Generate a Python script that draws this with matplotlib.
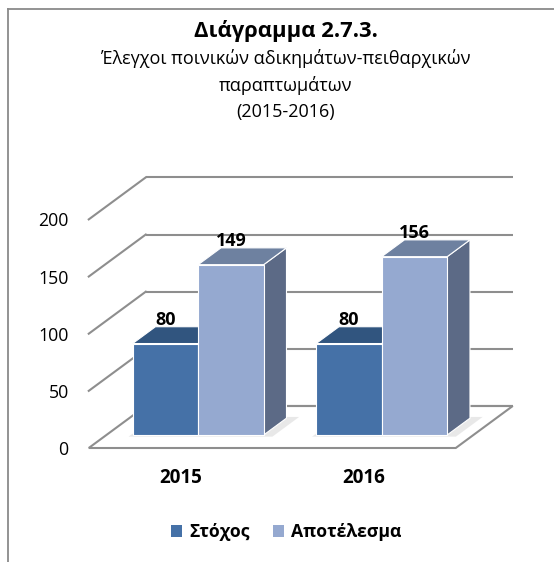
import matplotlib
matplotlib.use('Agg')
import matplotlib.pyplot as plt
from matplotlib.patches import Polygon, Patch
from matplotlib.lines import Line2D

# ---------------- data ----------------
categories = ['2015', '2016']
series_names = ['Στόχος', 'Αποτέλεσμα']
target = [80, 80]
result = [149, 156]
y_ticks = [0, 50, 100, 150, 200]

title = 'Διάγραμμα 2.7.3.'
subtitle_lines = ['Έλεγχοι ποινικών αδικημάτων-πειθαρχικών', 'παραπτωμάτων', '(2015-2016)']

# ---------------- style ----------------
plt.rcParams['font.family'] = ['Open Sans', 'DejaVu Sans']

front_cols = ['#4571A7', '#95A9D0']
top_cols = ['#31557F', '#6E81A0']
side_cols = ['#2C4B72', '#5C6A86']
grid_c = '#8E8E8E'

W, H = 554, 562
fig = plt.figure(figsize=(W / 100, H / 100), dpi=100)
ax = fig.add_axes([0, 0, 1, 1])
ax.set_xlim(-0.98365, 2.03542)
ax.set_ylim(-99.74, 391.95)
ax.axis('off')

DX = 0.3106   # x data units per unit depth
DV = 36.75    # value units per unit depth


def proj(x, v, d):
    return (x + DX * d, v + DV * d)


x0, x1 = -0.5, len(categories) - 0.5

# floor
floor = Polygon([proj(x0, 0, 0), proj(x1, 0, 0), proj(x1, 0, 1), proj(x0, 0, 1)],
                closed=True, facecolor='white', edgecolor=grid_c, lw=1.5, zorder=1)
ax.add_patch(floor)

# back wall gridlines and left wall diagonals
for t in y_ticks:
    bx = [proj(x0, t, 1)[0], proj(x1, t, 1)[0]]
    by = [proj(x0, t, 1)[1], proj(x1, t, 1)[1]]
    ax.plot(bx, by, color=grid_c, lw=1.5, zorder=1, solid_capstyle='butt')
    if t > 0:
        p0 = proj(x0, t, 0)
        p1 = proj(x0, t, 1)
        ax.plot([p0[0], p1[0]], [p0[1], p1[1]], color=grid_c, lw=1.5, zorder=1)
    ax.annotate(str(t), xy=proj(x0, t, 0), xytext=(-20, -2), textcoords='offset pixels',
                ha='right', va='center', fontsize=12.8, color='black')

# bars
w = 0.357
d0, d1 = 0.31, 0.71
all_series = [target, result]
z = 3
for i, cat in enumerate(categories):
    # soft shadow under the group
    l_g = i - w
    r_g = i + w
    sh = Polygon([proj(l_g - 0.01, 0, d0 - 0.04), proj(r_g + 0.06, 0, d0 - 0.04),
                  proj(r_g + 0.06, 0, d1 + 0.03), proj(l_g - 0.01, 0, d1 + 0.03)],
                 closed=True, facecolor='#DADADA', edgecolor='none', alpha=0.6, zorder=2)
    ax.add_patch(sh)
    for s, vals in enumerate(all_series):
        v = vals[i]
        l = i - w + s * w
        r = l + w
        side = Polygon([proj(r, 0, d0), proj(r, 0, d1), proj(r, v, d1), proj(r, v, d0)],
                       closed=True, facecolor=side_cols[s], edgecolor='white', lw=0.8, zorder=z)
        top = Polygon([proj(l, v, d0), proj(r, v, d0), proj(r, v, d1), proj(l, v, d1)],
                      closed=True, facecolor=top_cols[s], edgecolor='white', lw=0.8, zorder=z)
        front = Polygon([proj(l, 0, d0), proj(r, 0, d0), proj(r, v, d0), proj(l, v, d0)],
                        closed=True, facecolor=front_cols[s], edgecolor='white', lw=0.8, zorder=z + 0.5)
        ax.add_patch(side)
        ax.add_patch(top)
        ax.add_patch(front)
        ax.annotate(str(v), xy=proj((l + r) / 2, v, d0), xytext=(0, 24), textcoords='offset pixels',
                    ha='center', va='center', fontsize=13, fontweight='bold', zorder=10)
        z += 1
    ax.annotate(cat, xy=proj(i, 0, 0), xytext=(0, -30), textcoords='offset pixels',
                ha='center', va='center', fontsize=13.5, fontweight='bold')

# titles
CX = 286
fig.text(CX / W, 1 - 31 / H, title, ha='center', va='center', fontsize=15.8, fontweight='bold')
for k, line in enumerate(subtitle_lines):
    fig.text(CX / W, 1 - (59 + 26.5 * k) / H, line, ha='center', va='center', fontsize=13)

# legend
handles = [Patch(facecolor=front_cols[s], edgecolor='none', label=series_names[s]) for s in range(2)]
fig.legend(handles=handles, loc='center', bbox_to_anchor=(CX / W, 1 - 532 / H), ncol=2,
           frameon=False, handlelength=0.65, handleheight=0.65, handletextpad=0.4,
           columnspacing=1.3, prop={'weight': 'bold', 'size': 12.7})

# chart border (left and top)
fig.add_artist(Line2D([7.5 / W, 7.5 / W], [0, 1 - 8.5 / H], transform=fig.transFigure,
                      color='#8A8A8A', lw=1.3))
fig.add_artist(Line2D([7.5 / W, 1], [1 - 8.5 / H, 1 - 8.5 / H], transform=fig.transFigure,
                      color='#8A8A8A', lw=1.3))

fig.savefig('out.png', dpi=100, facecolor='white')
